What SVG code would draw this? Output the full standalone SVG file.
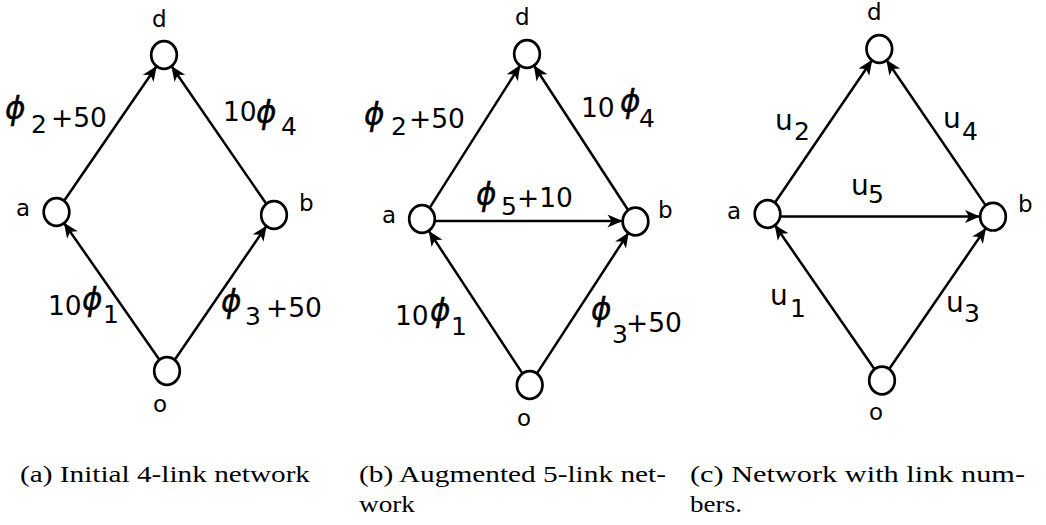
<svg xmlns="http://www.w3.org/2000/svg" width="1046" height="525" viewBox="0 0 1046 525">
<defs>
<style>
.node{fill:#fff;stroke:#000;stroke-width:2.7}
.edge{fill:none;stroke:#000;stroke-width:2.5;marker-end:url(#ah)}
.nl{font-family:"DejaVu Sans",sans-serif;font-size:23px;fill:#000}
.lb{font-family:"DejaVu Sans",sans-serif;font-size:26.5px;fill:#000}
.sb{font-family:"DejaVu Sans",sans-serif;font-size:25px;fill:#000}
.u{font-family:"DejaVu Sans",sans-serif;font-size:28px;fill:#000}
.ph{font-family:"DejaVu Sans",sans-serif;font-size:31px;font-style:italic;fill:#000;stroke:#000;stroke-width:0.4}
.cap{font-family:"Liberation Serif",serif;font-size:23px;fill:#000}
</style>
<marker id="ah" markerUnits="userSpaceOnUse" viewBox="-16 -8 18 16" refX="0" refY="0" markerWidth="18" markerHeight="16" orient="auto">
<path d="M0,0 L-15,-6.5 L-11,0 L-15,6.5 Z" fill="#000"/>
</marker>
</defs>
<rect width="1046" height="525" fill="#fff"/>

<g id="connectors">
<line class="edge" x1="159.6" y1="360" x2="63.9" y2="222.7"/>
<line class="edge" x1="174.4" y1="360.3" x2="266.6" y2="225.7"/>
<line class="edge" x1="63.8" y1="201.3" x2="156.7" y2="66"/>
<line class="edge" x1="266.6" y1="204.3" x2="171.4" y2="66"/>
<line class="edge" x1="522.9" y1="374.1" x2="428.8" y2="230.9"/>
<line class="edge" x1="536.5" y1="374.1" x2="628.7" y2="232.4"/>
<line class="edge" x1="428.7" y1="209.4" x2="520.3" y2="65"/>
<line class="edge" x1="628.7" y1="211" x2="533.8" y2="65.3"/>
<line class="edge" x1="434.5" y1="221" x2="622.5" y2="221"/>
<line class="edge" x1="874.9" y1="369.8" x2="774.6" y2="224.7"/>
<line class="edge" x1="889" y1="369.3" x2="986" y2="227.9"/>
<line class="edge" x1="774.5" y1="203.2" x2="872.3" y2="59.8"/>
<line class="edge" x1="986" y1="205.9" x2="886.3" y2="59.8"/>
<line class="edge" x1="780.5" y1="216.5" x2="980" y2="216.5"/>
</g>

<g id="a-d"><ellipse class="node" cx="164" cy="55" rx="12.8" ry="13.8"/><text class="nl" x="152" y="27">d</text></g>
<g id="a-a"><ellipse class="node" cx="56.5" cy="212" rx="12.8" ry="13.8"/><text class="nl" x="16" y="216">a</text></g>
<g id="a-b"><ellipse class="node" cx="274" cy="215" rx="12.8" ry="13.8"/><text class="nl" x="299" y="211">b</text></g>
<g id="a-o"><ellipse class="node" cx="167" cy="371" rx="12.8" ry="13.8"/><text class="nl" x="153" y="412">o</text></g>

<g id="b-d"><ellipse class="node" cx="527" cy="54" rx="12.8" ry="13.8"/><text class="nl" x="515" y="25">d</text></g>
<g id="b-a"><ellipse class="node" cx="422" cy="219" rx="12.8" ry="13.8"/><text class="nl" x="382" y="223">a</text></g>
<g id="b-b"><ellipse class="node" cx="635.5" cy="221.5" rx="12.8" ry="13.8"/><text class="nl" x="658" y="218">b</text></g>
<g id="b-o"><ellipse class="node" cx="529.7" cy="385" rx="12.8" ry="13.8"/><text class="nl" x="517" y="426">o</text></g>

<g id="c-d"><ellipse class="node" cx="879.3" cy="49" rx="12.8" ry="13.8"/><text class="nl" x="867" y="20">d</text></g>
<g id="c-a"><ellipse class="node" cx="767.5" cy="214" rx="12.8" ry="13.8"/><text class="nl" x="727" y="219">a</text></g>
<g id="c-b"><ellipse class="node" cx="993" cy="216.7" rx="12.8" ry="13.8"/><text class="nl" x="1018" y="212">b</text></g>
<g id="c-o"><ellipse class="node" cx="882" cy="380.5" rx="12.8" ry="13.8"/><text class="nl" x="869" y="420">o</text></g>

<g id="a-labels">
<text class="ph" x="5" y="119">ϕ</text><text class="sb" x="31" y="133">2</text><text class="lb" x="51" y="127">+50</text>
<text class="lb" x="223" y="121">10</text><text class="ph" x="256" y="123">ϕ</text><text class="sb" x="281" y="135">4</text>
<text class="lb" x="48" y="315">10</text><text class="ph" x="82" y="310">ϕ</text><text class="sb" x="103" y="323">1</text>
<text class="ph" x="221" y="312">ϕ</text><text class="sb" x="245" y="325">3</text><text class="lb" x="266" y="317">+50</text>
</g>
<g id="b-labels">
<text class="ph" x="364" y="125">ϕ</text><text class="sb" x="391" y="135">2</text><text class="lb" x="409" y="128">+50</text>
<text class="lb" x="581" y="117">10</text><text class="ph" x="620" y="112">ϕ</text><text class="sb" x="639" y="127">4</text>
<text class="ph" x="476" y="205">ϕ</text><text class="sb" x="501" y="215">5</text><text class="lb" x="517" y="207">+10</text>
<text class="lb" x="395" y="325">10</text><text class="ph" x="430" y="321">ϕ</text><text class="sb" x="451" y="335">1</text>
<text class="ph" x="591" y="320">ϕ</text><text class="sb" x="612" y="343">3</text><text class="lb" x="626" y="332">+50</text>
</g>
<g id="c-labels">
<text class="u" x="775" y="130">u</text><text class="sb" x="794" y="140">2</text>
<text class="u" x="943" y="128">u</text><text class="sb" x="962" y="140">4</text>
<text class="u" x="851" y="195">u</text><text class="sb" x="868" y="203">5</text>
<text class="u" x="770" y="305">u</text><text class="sb" x="790" y="317">1</text>
<text class="u" x="946" y="312">u</text><text class="sb" x="964" y="322">3</text>
</g>

<g id="captions">
<text class="cap" x="20" y="482" textLength="290" lengthAdjust="spacingAndGlyphs">(a) Initial 4-link network</text>
<text class="cap" x="359" y="482" textLength="307" lengthAdjust="spacingAndGlyphs">(b)  Augmented  5-link  net-</text>
<text class="cap" x="359" y="512" textLength="56" lengthAdjust="spacingAndGlyphs">work</text>
<text class="cap" x="690" y="482" textLength="335" lengthAdjust="spacingAndGlyphs">(c) Network with link num-</text>
<text class="cap" x="690" y="512" textLength="52" lengthAdjust="spacingAndGlyphs">bers.</text>
</g>
</svg>
